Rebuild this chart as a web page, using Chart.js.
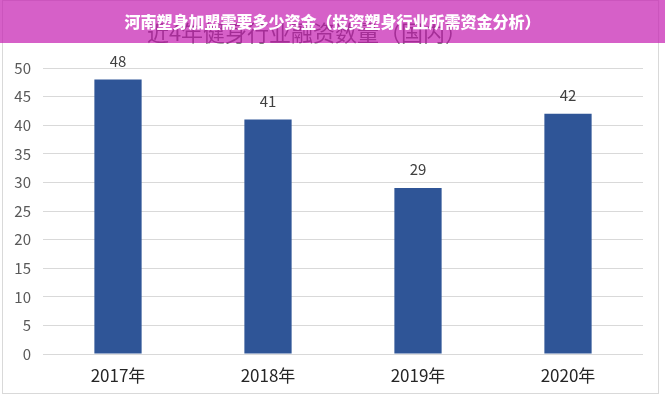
<!DOCTYPE html>
<html>
<head>
<meta charset="utf-8">
<script src="https://cdn.jsdelivr.net/npm/chart.js@4.4.0/dist/chart.umd.min.js"></script>
<style>
  html, body { margin: 0; padding: 0; background: #fff; }
  #wrap { position: relative; width: 665px; height: 400px; overflow: hidden; }
  #frame { position: absolute; left: 2px; top: 0; width: 657px; height: 394px; border: 1px solid #d9d9d9; box-sizing: border-box; pointer-events: none; }
  #banner { position: absolute; left: 0; top: 0; width: 665px; height: 43px;
    background: rgba(196, 28, 176, 0.7); color: #fff;
    font: 900 16px "Noto Sans CJK SC", sans-serif; text-align: center; line-height: 42px; }
  canvas { position: absolute; left: 0; top: 0; }
</style>
</head>
<body>
<div id="wrap">
  <canvas id="c" width="665" height="400"></canvas>
  <div id="frame"></div>
  <div id="banner">河南塑身加盟需要多少资金（投资塑身行业所需资金分析）</div>
</div>
<script>
const categories = ["2017年", "2018年", "2019年", "2020年"];
const values = [48, 41, 29, 42];
const yTicks = [0, 5, 10, 15, 20, 25, 30, 35, 40, 45, 50];
const chartTitle = "近4年健身行业融资数量（国内）";

const labelPlugin = {
  id: 'labels',
  afterDatasetsDraw(chart) {
    const ctx = chart.ctx;
    const meta = chart.getDatasetMeta(0);
    ctx.save();
    ctx.font = '15px "Noto Sans CJK SC", sans-serif';
    ctx.fillStyle = '#404040';
    ctx.textAlign = 'center';
    ctx.textBaseline = 'bottom';
    meta.data.forEach((bar, i) => {
      ctx.fillText(String(values[i]), bar.x, bar.y - 11);
    });
    ctx.restore();
  }
};

const titlePlugin = {
  id: 'titleDraw',
  beforeDraw(chart) {
    const ctx = chart.ctx;
    ctx.save();
    ctx.font = '22px "Noto Sans CJK SC", sans-serif';
    ctx.fillStyle = '#595959';
    ctx.textAlign = 'center';
    ctx.textBaseline = 'middle';
    ctx.fillText(chartTitle, 307, 33);
    ctx.restore();
  }
};

new Chart(document.getElementById('c'), {
  type: 'bar',
  data: {
    labels: categories,
    datasets: [{
      data: values,
      backgroundColor: '#2f5597',
      borderWidth: 0,
      categoryPercentage: 1,
      barPercentage: 0.315
    }]
  },
  options: {
    responsive: false,
    animation: false,
    layout: { padding: { left: 3, right: 22, top: 68, bottom: 8 } },
    plugins: { legend: { display: false }, tooltip: { enabled: false }, title: { display: false } },
    scales: {
      x: {
        grid: { display: false, drawTicks: false },
        border: { display: false },
        ticks: { color: '#262626', font: { size: 17, family: '"Noto Sans CJK SC", sans-serif' }, padding: 11 },
        afterFit(s) { s.height = 38; }
      },
      y: {
        min: 0, max: 50,
        afterBuildTicks(s) { s.ticks = yTicks.map(v => ({ value: v })); },
        grid: { color: '#d9d9d9', lineWidth: 1, drawTicks: false },
        border: { display: false },
        ticks: { color: '#595959', font: { size: 15, family: '"Noto Sans CJK SC", sans-serif' }, padding: 12 },
        afterFit(s) { s.width = 40; }
      }
    }
  },
  plugins: [titlePlugin, labelPlugin]
});
</script>
</body>
</html>
